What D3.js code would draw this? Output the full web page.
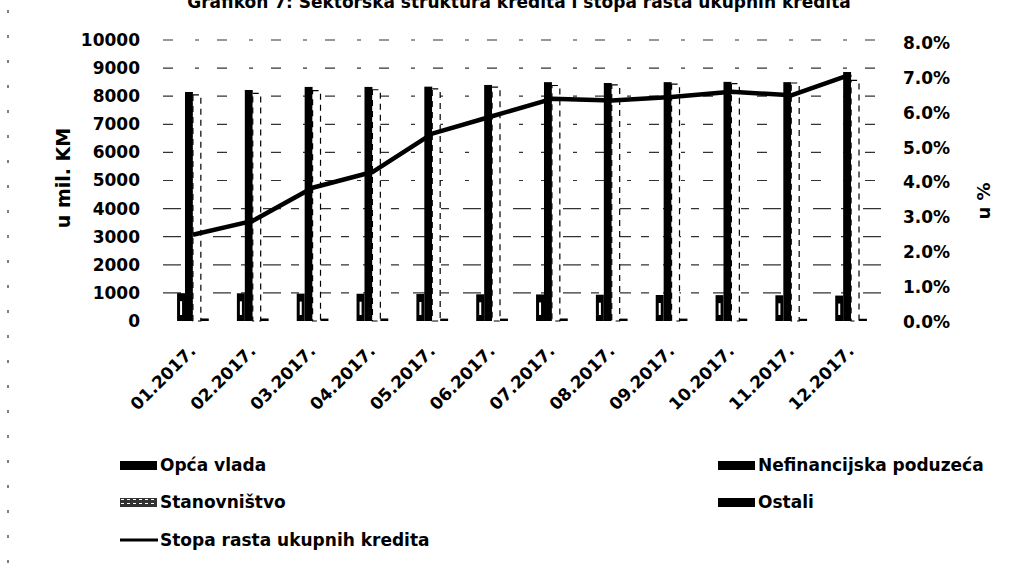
<!DOCTYPE html>
<html>
<head>
<meta charset="utf-8">
<script src="https://cdn.jsdelivr.net/npm/d3@7"></script>
<style>
  body { margin: 0; background: #fff; }
  svg { display: block; font-family: "DejaVu Sans", sans-serif; font-weight: bold; }
</style>
</head>
<body>
<script>
const months = ['01.2017.', '02.2017.', '03.2017.', '04.2017.', '05.2017.', '06.2017.',
                '07.2017.', '08.2017.', '09.2017.', '10.2017.', '11.2017.', '12.2017.'];
const seriesNames = ['Opća vlada', 'Nefinancijska poduzeća', 'Stanovništvo', 'Ostali'];
const opcaVlada = [990, 985, 975, 970, 960, 950, 945, 935, 925, 920, 915, 905];
const nefinancijska = [8150, 8220, 8330, 8330, 8340, 8400, 8500, 8470, 8500, 8510, 8500, 8860];
const stanovnistvo = [8050, 8100, 8200, 8230, 8260, 8320, 8380, 8400, 8430, 8450, 8470, 8560];
const ostali = [90, 90, 85, 90, 85, 85, 90, 85, 85, 85, 80, 80];
const stopaRasta = [2.5, 2.9, 3.85, 4.3, 5.4, 5.9, 6.4, 6.35, 6.45, 6.6, 6.5, 7.1];
const leftTicks = [0, 1000, 2000, 3000, 4000, 5000, 6000, 7000, 8000, 9000, 10000];
const rightTicks = [0, 1, 2, 3, 4, 5, 6, 7, 8];

const width = 1017, height = 573;
const svg = d3.select('body').append('svg')
  .attr('width', width)
  .attr('height', height);

const x0 = d3.scaleBand().domain(months).range([163, 881])
  .paddingInner(0.47).paddingOuter(0.235);
const x1 = d3.scaleBand().domain(seriesNames).range([0, x0.bandwidth()]);
const yL = d3.scaleLinear().domain([0, 10000]).range([321, 40]);
const yR = d3.scaleLinear().domain([0, 8]).range([322, 43]);

// pattern for the Stanovnistvo legend key
const defs = svg.append('defs');
const pat = defs.append('pattern').attr('id', 'stanPat')
  .attr('width', 6).attr('height', 4).attr('patternUnits', 'userSpaceOnUse');
pat.append('rect').attr('width', 6).attr('height', 4).attr('fill', '#333');
pat.append('rect').attr('x', 1).attr('y', 1).attr('width', 3).attr('height', 1).attr('fill', '#fff');

// title (cut at the top edge, as in the scan)
svg.append('text')
  .attr('x', 519).attr('y', 8)
  .attr('text-anchor', 'middle')
  .style('font-size', '17px')
  .text('Grafikon 7: Sektorska struktura kredita i stopa rasta ukupnih kredita');

// left frame edge
svg.append('line')
  .attr('x1', 8).attr('x2', 8).attr('y1', 10).attr('y2', 570)
  .attr('stroke', '#000').attr('stroke-width', 1)
  .attr('stroke-dasharray', '3,22');

// gridlines
svg.append('g').selectAll('line')
  .data(leftTicks.slice(1))
  .join('line')
  .attr('x1', 163).attr('x2', 881)
  .attr('y1', d => yL(d)).attr('y2', d => yL(d))
  .attr('stroke', '#333').attr('stroke-width', 1.2)
  .attr('stroke-dasharray', d => d > 4000 ? '10,22,4,18' : '18,10,8,14');

// bars
const seriesData = [opcaVlada, nefinancijska, stanovnistvo, ostali];
const groups = svg.append('g').selectAll('g')
  .data(months)
  .join('g')
  .attr('transform', d => `translate(${x0(d)},0)`);

groups.selectAll('rect')
  .data((m, i) => seriesNames.map((s, k) => ({ s, v: seriesData[k][i] })))
  .join('rect')
  .attr('x', d => x1(d.s))
  .attr('width', x1.bandwidth())
  .attr('y', d => yL(d.v))
  .attr('height', d => yL(0) - yL(d.v))
  .attr('fill', d => d.s === 'Stanovništvo' ? '#fff' : '#000')
  .attr('stroke', d => d.s === 'Stanovništvo' ? '#000' : 'none')
  .attr('stroke-width', 1.2)
  .attr('stroke-dasharray', d => d.s === 'Stanovništvo' ? '6,5' : null);

// white marks inside the Opca vlada bars
groups.append('rect')
  .attr('x', x1('Opća vlada') + 3)
  .attr('width', 2)
  .attr('y', (m, i) => yL(opcaVlada[i]) + 8)
  .attr('height', (m, i) => (yL(0) - yL(opcaVlada[i])) - 14)
  .attr('fill', '#fff');

// growth line
const line = d3.line()
  .x((d, i) => x0(months[i]) + x0.bandwidth() / 2)
  .y(d => yR(d));
svg.append('path')
  .datum(stopaRasta)
  .attr('d', line)
  .attr('fill', 'none')
  .attr('stroke', '#000')
  .attr('stroke-width', 4.5)
  .attr('stroke-linejoin', 'round');

// left axis labels
svg.append('g').selectAll('text')
  .data(leftTicks)
  .join('text')
  .attr('x', 140).attr('y', d => yL(d))
  .attr('dy', '0.35em')
  .attr('text-anchor', 'end')
  .style('font-size', '17px')
  .text(d => d);

// right axis labels
const fmtPct = d3.format('.1f');
svg.append('g').selectAll('text')
  .data(rightTicks)
  .join('text')
  .attr('x', 903).attr('y', d => yR(d))
  .attr('dy', '0.35em')
  .style('font-size', '17px')
  .text(d => fmtPct(d) + '%');

// axis titles
svg.append('text')
  .attr('transform', 'translate(70,178) rotate(-90)')
  .attr('text-anchor', 'middle')
  .style('font-size', '19px')
  .text('u mil. KM');
svg.append('text')
  .attr('transform', 'translate(990,201) rotate(-90)')
  .attr('text-anchor', 'middle')
  .style('font-size', '18px')
  .text('u %');

// x labels
svg.append('g').selectAll('text')
  .data(months)
  .join('text')
  .attr('transform', d => `translate(${x0(d) + x0.bandwidth() / 2 + 4},352) rotate(-45)`)
  .attr('text-anchor', 'end')
  .style('font-size', '17px')
  .text(d => d);

// legend
const legendItems = [
  { name: 'Opća vlada', x: 120, y: 465, type: 'rect', fill: '#000' },
  { name: 'Nefinancijska poduzeća', x: 718, y: 465, type: 'rect', fill: '#000' },
  { name: 'Stanovništvo', x: 120, y: 502, type: 'rect', fill: 'url(#stanPat)' },
  { name: 'Ostali', x: 718, y: 502, type: 'rect', fill: '#000' },
  { name: 'Stopa rasta ukupnih kredita', x: 120, y: 540, type: 'line' }
];
const leg = svg.append('g').selectAll('g')
  .data(legendItems)
  .join('g')
  .attr('transform', d => `translate(${d.x},${d.y})`);
leg.filter(d => d.type === 'rect').append('rect')
  .attr('x', 0).attr('y', -4).attr('width', 37).attr('height', 9)
  .attr('fill', d => d.fill);
leg.filter(d => d.type === 'line').append('line')
  .attr('x1', 0).attr('x2', 38).attr('y1', 0).attr('y2', 0)
  .attr('stroke', '#000').attr('stroke-width', 3);
leg.append('text')
  .attr('x', 40).attr('dy', '0.35em')
  .style('font-size', '17px')
  .text(d => d.name);
</script>
</body>
</html>
